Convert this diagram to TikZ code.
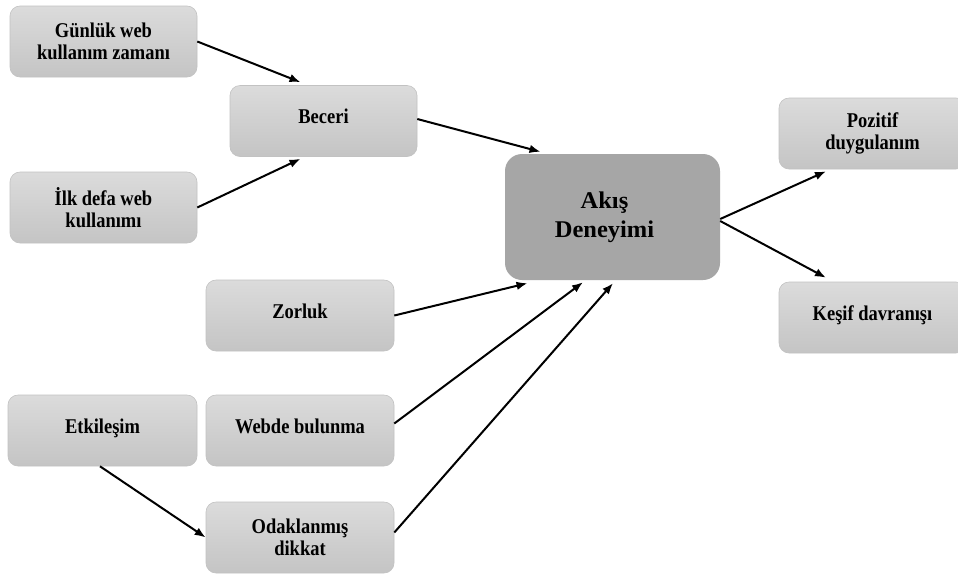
\documentclass[tikz,border=0pt]{standalone}
\usepackage{fontspec}
\setmainfont{Liberation Serif}[FakeStretch=0.88]
\newfontfamily\bigfont{Liberation Serif}[FakeStretch=1.02]
\usetikzlibrary{arrows.meta}
\begin{document}
\begin{tikzpicture}[x=1pt,y=-1pt,
 box/.style={draw=black!24, line width=0.6pt, rounded corners=10pt, top color=black!14, bottom color=black!23, minimum width=187pt, minimum height=71pt, align=center, font=\fontsize{21}{21.5}\selectfont\bfseries, inner sep=0pt},
 one/.style={text height=12pt, text depth=7pt},
 core/.style={fill=black!35, rounded corners=17pt, minimum width=215pt, minimum height=126pt, inner sep=0pt},
 coretext/.style={align=center, font=\bigfont\fontsize{24}{29}\selectfont\bfseries, inner sep=0pt},
 arr/.style={-{Latex[length=11pt,width=8.5pt]}, line width=2pt}
]
\clip (0,0) rectangle (958,574);
\fill[white] (0,0) rectangle (958,574);
\node[box] (g) at (103.5,41.5) {Günlük web\\kullanım zamanı};
\node[box, one] (b) at (323.5,121) {Beceri};
\node[box] (i) at (103.5,207.5) {İlk defa web\\kullanımı};
\node[core] (a) at (612.5,217) {};
\node[coretext] (at) at ([xshift=-8pt]a.center) {Akış\\Deneyimi};
\node[box] (p) at (872.5,133.5) {Pozitif\\duygulanım};
\node[box, one] (k) at (872.5,317.5) {Keşif davranışı};
\node[box, one, minimum width=188pt] (z) at (300,315.5) {Zorluk};
\node[box, one, minimum width=189pt] (e) at (102.5,430.5) {Etkileşim};
\node[box, one, minimum width=188pt] (w) at (300,430.5) {Webde bulunma};
\node[box, minimum width=188pt] (o) at (300,537.5) {Odaklanmış\\dikkat};
\draw[arr] (g.east) -- ([xshift=-23pt,yshift=3pt]b.north);
\draw[arr] (i.east) -- ([xshift=-23pt,yshift=-2pt]b.south);
\draw[arr] ([yshift=2pt]b.east) -- ([xshift=-72pt,yshift=2pt]a.north);
\draw[arr] (z.east) -- ([xshift=-85pt,yshift=-3pt]a.south);
\draw[arr] ([yshift=7pt]w.east) -- ([xshift=-29.5pt,yshift=-2pt]a.south);
\draw[arr] ([yshift=5pt]o.east) -- ([xshift=0.5pt,yshift=-3pt]a.south);
\draw[arr] ([yshift=-2pt]a.east) -- ([xshift=-46.5pt,yshift=-2pt]p.south);
\draw[arr] ([yshift=-4pt]a.east) -- ([xshift=-46.5pt,yshift=4pt]k.north);
\draw[arr] ([xshift=-2.5pt]e.south) -- (o.west);
\end{tikzpicture}
\end{document}
